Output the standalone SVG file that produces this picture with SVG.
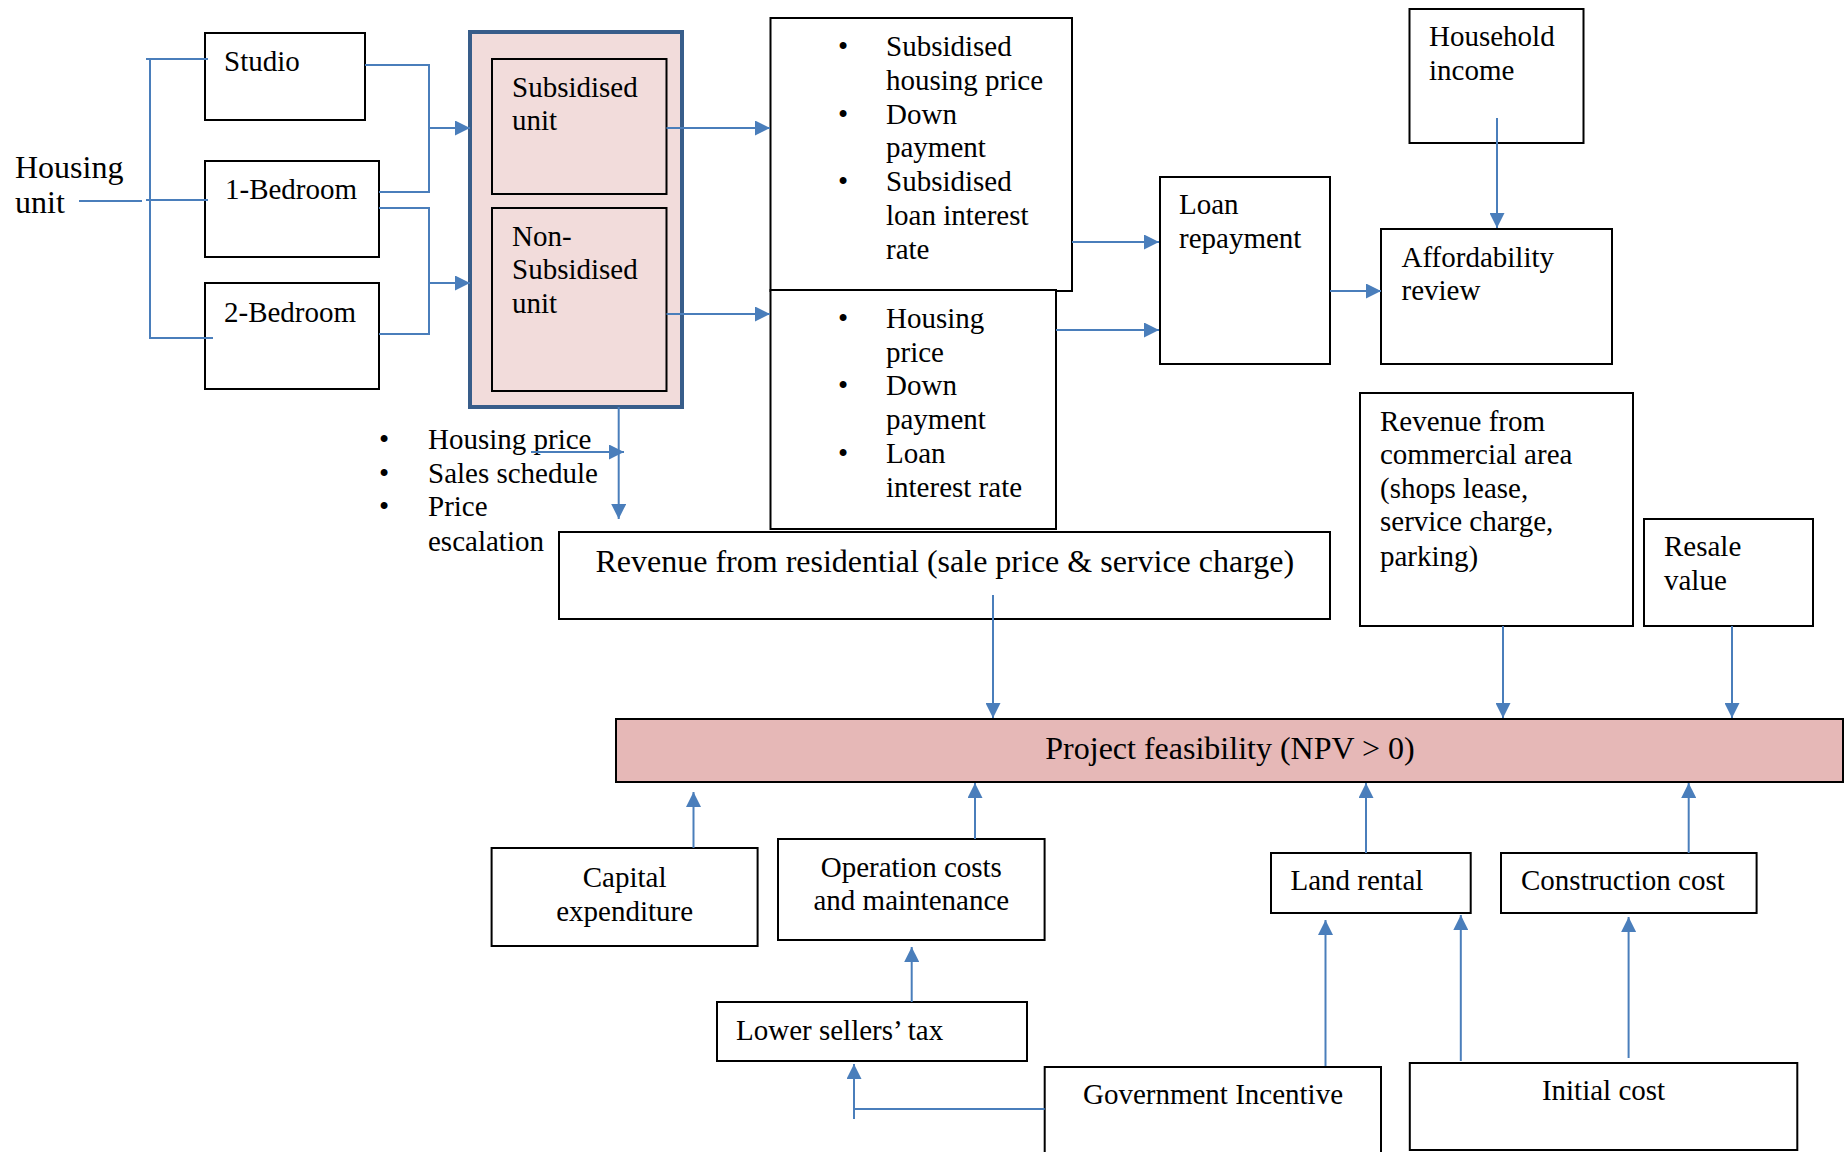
<svg xmlns="http://www.w3.org/2000/svg" width="1845" height="1152" viewBox="0 0 1845 1152">
  <style>
    .box { fill: #ffffff; stroke: #000000; stroke-width: 2; }
    .pink { fill: #f2dcdb; stroke: #000000; stroke-width: 2; }
    .frame { fill: #f2dcdb; stroke: #385d8a; stroke-width: 4; }
    .goal { fill: #e6b8b7; stroke: #000000; stroke-width: 2; }
    .t { font-family: "Liberation Serif", "Times New Roman", serif; font-size: 29px; fill: #000000; }
    .big { font-size: 32px; }
    .mid { text-anchor: middle; }
    .ln { fill: none; stroke: #4a7ebb; stroke-width: 2; }
    .ar { fill: none; stroke: #4a7ebb; stroke-width: 2; marker-end: url(#head); }
  </style>
  <defs>
    <marker id="head" markerUnits="userSpaceOnUse" viewBox="0 0 15 15" markerWidth="15" markerHeight="15" refX="15" refY="7.5" orient="auto">
      <path d="M0,0 L15,7.5 L0,15 Z" fill="#4a7ebb"/>
    </marker>
  </defs>
  <rect width="1845" height="1152" fill="#ffffff"/>

  <!-- nodes -->
  <g id="housing-unit">
    <text class="t big" x="15" y="178">Housing</text>
    <text class="t big" x="15" y="213">unit</text>
  </g>
  <g id="studio">
    <rect class="box" x="205" y="33" width="160" height="87"/>
    <text class="t" x="224" y="71">Studio</text>
  </g>
  <g id="one-bedroom">
    <rect class="box" x="205" y="161" width="174" height="96"/>
    <text class="t" x="225" y="199">1-Bedroom</text>
  </g>
  <g id="two-bedroom">
    <rect class="box" x="205" y="283" width="174" height="106"/>
    <text class="t" x="224" y="322">2-Bedroom</text>
  </g>
  <g id="unit-type">
    <rect class="frame" x="470" y="32" width="212" height="375"/>
    <g id="subsidised-unit">
      <rect class="pink" x="492" y="59" width="174.5" height="135"/>
      <text class="t" x="512" y="97">Subsidised</text>
      <text class="t" x="512" y="130">unit</text>
    </g>
    <g id="non-subsidised-unit">
      <rect class="pink" x="492" y="208" width="174.5" height="183"/>
      <text class="t" x="512" y="246">Non-</text>
      <text class="t" x="512" y="279">Subsidised</text>
      <text class="t" x="512" y="313">unit</text>
    </g>
  </g>
  <g id="subsidised-terms">
    <rect class="box" x="770.5" y="18" width="301.5" height="273"/>
    <text class="t" x="838" y="56">•</text>
    <text class="t" x="886" y="56">Subsidised</text>
    <text class="t" x="886" y="90">housing price</text>
    <text class="t" x="838" y="124">•</text>
    <text class="t" x="886" y="124">Down</text>
    <text class="t" x="886" y="157">payment</text>
    <text class="t" x="838" y="191">•</text>
    <text class="t" x="886" y="191">Subsidised</text>
    <text class="t" x="886" y="225">loan interest</text>
    <text class="t" x="886" y="259">rate</text>
  </g>
  <g id="market-terms">
    <rect class="box" x="770.5" y="290" width="285.5" height="239"/>
    <text class="t" x="838" y="328">•</text>
    <text class="t" x="886" y="328">Housing</text>
    <text class="t" x="886" y="362">price</text>
    <text class="t" x="838" y="395">•</text>
    <text class="t" x="886" y="395">Down</text>
    <text class="t" x="886" y="429">payment</text>
    <text class="t" x="838" y="463">•</text>
    <text class="t" x="886" y="463">Loan</text>
    <text class="t" x="886" y="497">interest rate</text>
  </g>
  <g id="loan-repayment">
    <rect class="box" x="1160" y="177" width="170" height="187"/>
    <text class="t" x="1179" y="214">Loan</text>
    <text class="t" x="1179" y="248">repayment</text>
  </g>
  <g id="household-income">
    <rect class="box" x="1409.5" y="9" width="174" height="134"/>
    <text class="t" x="1429" y="46">Household</text>
    <text class="t" x="1429" y="80">income</text>
  </g>
  <g id="affordability-review">
    <rect class="box" x="1381" y="229" width="231" height="135"/>
    <text class="t" x="1401.5" y="267">Affordability</text>
    <text class="t" x="1401.5" y="300">review</text>
  </g>
  <g id="sales-factors">
    <text class="t" x="379" y="449">•</text>
    <text class="t" x="428" y="449">Housing price</text>
    <text class="t" x="379" y="483">•</text>
    <text class="t" x="428" y="483">Sales schedule</text>
    <text class="t" x="379" y="516">•</text>
    <text class="t" x="428" y="516">Price</text>
    <text class="t" x="428" y="551">escalation</text>
  </g>
  <g id="revenue-residential">
    <rect class="box" x="559" y="532" width="771" height="87"/>
    <text class="t big" x="595.5" y="572">Revenue from residential (sale price &amp; service charge)</text>
  </g>
  <g id="revenue-commercial">
    <rect class="box" x="1360" y="393" width="273" height="233"/>
    <text class="t" x="1380" y="431">Revenue from</text>
    <text class="t" x="1380" y="464">commercial area</text>
    <text class="t" x="1380" y="498">(shops lease,</text>
    <text class="t" x="1380" y="531">service charge,</text>
    <text class="t" x="1380" y="566">parking)</text>
  </g>
  <g id="resale-value">
    <rect class="box" x="1644" y="519" width="169" height="107"/>
    <text class="t" x="1664" y="556">Resale</text>
    <text class="t" x="1664" y="590">value</text>
  </g>
  <g id="project-feasibility">
    <rect class="goal" x="616" y="719" width="1227" height="63"/>
    <text class="t big mid" x="1230" y="759">Project feasibility (NPV &gt; 0)</text>
  </g>
  <g id="capital-expenditure">
    <rect class="box" x="491.6" y="848" width="266" height="98"/>
    <text class="t mid" x="624.6" y="887">Capital</text>
    <text class="t mid" x="624.6" y="921">expenditure</text>
  </g>
  <g id="operation-costs">
    <rect class="box" x="778" y="839" width="266.6" height="101"/>
    <text class="t mid" x="911.3" y="877">Operation costs</text>
    <text class="t mid" x="911.3" y="910">and maintenance</text>
  </g>
  <g id="lower-sellers-tax">
    <rect class="box" x="717" y="1002" width="310" height="59"/>
    <text class="t" x="736" y="1040">Lower sellers’ tax</text>
  </g>
  <g id="government-incentive">
    <rect class="box" x="1044.7" y="1067" width="336.3" height="95"/>
    <text class="t mid" x="1213" y="1104">Government Incentive</text>
  </g>
  <g id="land-rental">
    <rect class="box" x="1271" y="853" width="199.7" height="60"/>
    <text class="t" x="1290.5" y="890">Land rental</text>
  </g>
  <g id="construction-cost">
    <rect class="box" x="1501" y="853" width="255.6" height="60"/>
    <text class="t" x="1521" y="890">Construction cost</text>
  </g>
  <g id="initial-cost">
    <rect class="box" x="1409.8" y="1063" width="387.5" height="87"/>
    <text class="t mid" x="1603.5" y="1100">Initial cost</text>
  </g>

  <!-- connectors -->
  <g id="connectors">
    <path class="ln" d="M79,201 H142"/>
    <path class="ln" d="M146,59 H208 M150,59 V338 H213 M146,200 H208"/>
    <path class="ln" d="M365,65 H429 V192 H379"/>
    <path class="ar" d="M429,128 H470"/>
    <path class="ln" d="M379,208 H429 V334 H379"/>
    <path class="ar" d="M429,283 H470"/>
    <path class="ar" d="M666.5,128 H770"/>
    <path class="ar" d="M666.5,314 H770"/>
    <path class="ar" d="M1072,242 H1159"/>
    <path class="ar" d="M1056,330 H1159"/>
    <path class="ar" d="M1330,291 H1381"/>
    <path class="ar" d="M1497,118 V228"/>
    <path class="ar" d="M618.7,407 V519"/>
    <path class="ar" d="M531,452 H624"/>
    <path class="ar" d="M993,595 V718"/>
    <path class="ar" d="M1503,626 V718"/>
    <path class="ar" d="M1732,626 V718"/>
    <path class="ar" d="M693.5,848 V792"/>
    <path class="ar" d="M975,839 V783"/>
    <path class="ar" d="M911.7,1002 V947"/>
    <path class="ln" d="M1044.7,1109 H854"/>
    <path class="ar" d="M854,1119 V1064"/>
    <path class="ar" d="M1366,853 V783"/>
    <path class="ar" d="M1688.7,853 V783"/>
    <path class="ar" d="M1325.5,1066 V920"/>
    <path class="ar" d="M1460.8,1061 V915"/>
    <path class="ar" d="M1628.6,1058 V917"/>
  </g>
</svg>
